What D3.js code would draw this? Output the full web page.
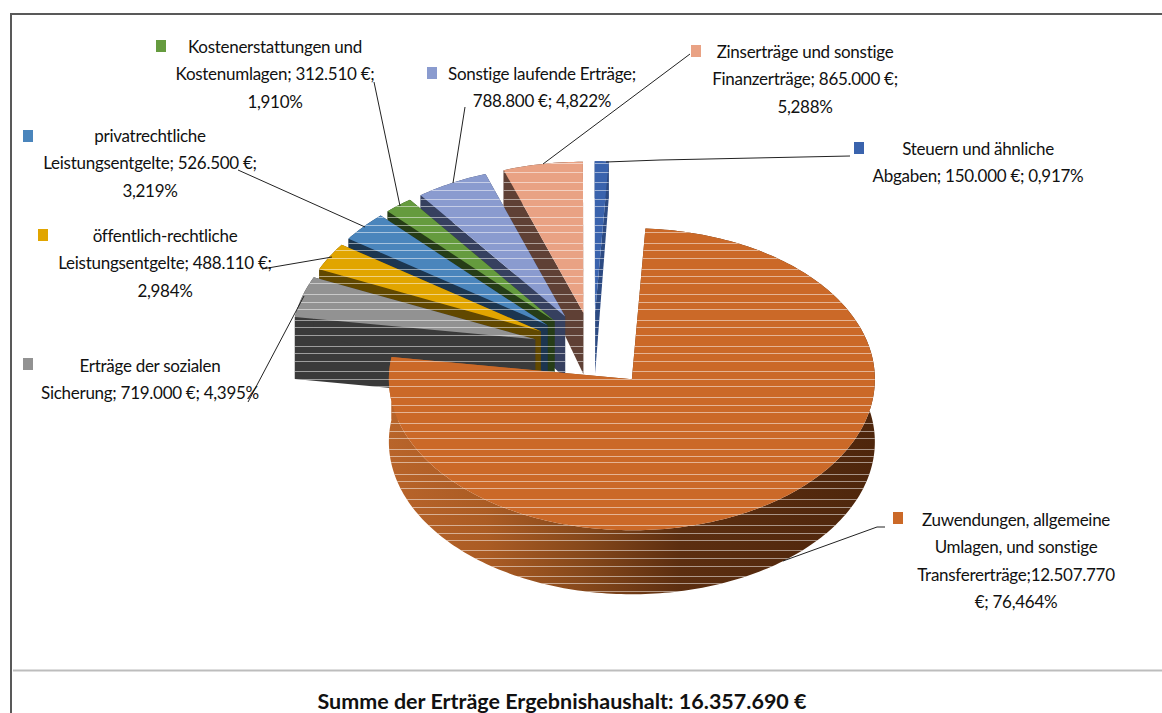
<!DOCTYPE html>
<html>
<head>
<meta charset="utf-8">
<script src="https://cdnjs.cloudflare.com/ajax/libs/d3/7.8.5/d3.min.js"></script>
<style>
    html, body { margin: 0; padding: 0; background: #fff; overflow: hidden; }
    text { font-family: Lato, sans-serif; fill: #111; }
</style>
</head>
<body>
<div id="chart"></div>
<script>
    const categories = [
        'Zuwendungen, allgemeine Umlagen, und sonstige Transfererträge',
        'Erträge der sozialen Sicherung',
        'öffentlich-rechtliche Leistungsentgelte',
        'privatrechtliche Leistungsentgelte',
        'Kostenerstattungen und Kostenumlagen',
        'Sonstige laufende Erträge',
        'Zinserträge und sonstige Finanzerträge',
        'Steuern und ähnliche Abgaben',
    ];
    const values = [12507770, 719000, 488110, 526500, 312510, 788800, 865000, 150000];
    const labelLines = [
        ['Zuwendungen, allgemeine', 'Umlagen, und sonstige', 'Transfererträge;12.507.770', '€; 76,464%'],
        ['Erträge der sozialen', 'Sicherung; 719.000 €; 4,395%'],
        ['öffentlich-rechtliche', 'Leistungsentgelte; 488.110 €;', '2,984%'],
        ['privatrechtliche', 'Leistungsentgelte; 526.500 €;', '3,219%'],
        ['Kostenerstattungen und', 'Kostenumlagen; 312.510 €;', '1,910%'],
        ['Sonstige laufende Erträge;', '788.800 €; 4,822%'],
        ['Zinserträge und sonstige', 'Finanzerträge; 865.000 €;', '5,288%'],
        ['Steuern und ähnliche', 'Abgaben; 150.000 €; 0,917%'],
    ];
    const title = 'Summe der Erträge Ergebnishaushalt: 16.357.690 €';

    const topColours = ['#CB6928', '#929292', '#E1A500', '#4A85BC', '#659B3E', '#8A9BCF', '#E9A284', '#3A63AD'];
    const sideColours = ['url(#mainSide)', '#3A3A3A', '#614800', '#1C3650', '#263D17', '#36405F', '#5F4035', '#2C4A82'];

    // label block: text centre, first line y, swatch corner, leader polyline
    const labelLayout = [
        { cx: 1016, y: 520, box: [893, 512], leader: [[783, 561], [877, 527], [885, 527]] },
        { cx: 150, y: 366, box: [23, 358], leader: [[304, 296], [248, 402]] },
        { cx: 165, y: 236, box: [38, 229], leader: [[332, 257], [262, 269]] },
        { cx: 150, y: 136, box: [23, 130], leader: [[365, 227], [238, 170]] },
        { cx: 275, y: 47, box: [156, 40], leader: [[400, 206], [374, 82]] },
        { cx: 542, y: 74, box: [427, 67], leader: [[453, 183], [465, 107]] },
        { cx: 805, y: 52, box: [691, 45], leader: [[543, 164], [690, 54]] },
        { cx: 978, y: 149, box: [854, 142], leader: [[606, 162], [660, 160], [850, 156]] },
    ];

    // the light horizontal scan streaks that run over the pie
    const scanLines = [163, 172, 182, 190, 199, 206, 217, 225, 232, 243, 250, 258, 269, 276, 283, 294, 302, 309,
        320, 327, 335, 346, 353, 361, 371, 379, 386, 397, 405, 412, 423, 431, 438, 449, 456, 462, 474, 481, 488,
        499, 507, 514, 525, 533, 540, 550, 558, 566, 576, 583, 591];

    const width = 1162, height = 713;
    const [centreX, centreY, radiusX, radiusY] = [593.5, 350, 243, 151];
    const explode = 0.25;
    const startDeg = 3.2;

    const svg = d3.select('#chart').append('svg')
        .attr('width', width)
        .attr('height', height)
        .attr('viewBox', `0 0 ${width} ${height}`)
        .style('display', 'block');

    // the big slice's wall fades from orange on the left to dark brown on the right
    svg.append('defs').append('linearGradient')
        .attr('id', 'mainSide')
        .attr('gradientUnits', 'userSpaceOnUse')
        .attr('x1', 389).attr('x2', 875).attr('y1', 0).attr('y2', 0)
        .selectAll('stop')
        .data([[0, '#B8642A'], [0.2, '#AB5C24'], [0.4, '#86481B'], [0.6, '#5C2E10'], [1, '#4E260C']])
        .enter()
        .append('stop')
        .attr('offset', d => d[0])
        .attr('stop-color', d => d[1]);

    // frame
    svg.append('path').attr('d', `M11,713V14H${width}`).attr('fill', 'none').attr('stroke', '#595959').attr('stroke-width', 2);
    svg.append('line').attr('x1', 13).attr('x2', width).attr('y1', 670.5).attr('y2', 670.5).attr('stroke', '#bdbdbd').attr('stroke-width', 2);

    // unit circle -> screen
    const x = d3.scaleLinear().domain([-1, 1]).range([centreX - radiusX, centreX + radiusX]);
    const y = d3.scaleLinear().domain([-1, 1]).range([centreY + radiusY, centreY - radiusY]);
    // extrusion shrinks towards the back of the pie
    const depth = d3.scaleLinear().domain([170, 317, 532]).range([37, 62, 64]).clamp(true);

    const arcs = d3.pie().sort(null)
        .startAngle(startDeg * Math.PI / 180)
        .endAngle(startDeg * Math.PI / 180 + 2 * Math.PI)(values);

    const line = d3.line().curve(d3.curveLinearClosed);
    const drop = (p) => [p[0], p[1] + depth(p[1])];

    const slices = arcs.map((a, i) => {
        const mid = (a.startAngle + a.endAngle) / 2;
        const project = (angle, r) => [
            x(explode * Math.sin(mid) + r * Math.sin(angle)),
            y(explode * Math.cos(mid) + r * Math.cos(angle)),
        ];
        const apex = project(0, 0);
        const steps = Math.max(4, Math.ceil((a.endAngle - a.startAngle) / 0.02));
        const rim = d3.range(steps + 1).map(s => project(a.startAngle + (a.endAngle - a.startAngle) * s / steps, 1));
        return {
            index: i,
            top: line([apex, ...rim]),
            sides: [
                line([...rim, ...rim.map(drop).reverse()]),
                line([apex, rim[0], drop(rim[0]), drop(apex)]),
                line([apex, rim[rim.length - 1], drop(rim[rim.length - 1]), drop(apex)]),
            ],
        };
    });

    // painted from the back round to the front, the big slice last
    const paintOrder = [6, 7, 5, 4, 3, 2, 1, 0];
    const pie = svg.append('g');
    const clip = svg.append('clipPath').attr('id', 'pieClip');
    for (let i of paintOrder) {
        let s = slices[i];
        for (let d of s.sides) {
            pie.append('path').attr('d', d).attr('fill', sideColours[i]);
            clip.append('path').attr('d', d);
        }
        pie.append('path').attr('d', s.top).attr('fill', topColours[i]);
        clip.append('path').attr('d', s.top);
    }

    svg.append('g')
        .attr('clip-path', 'url(#pieClip)')
        .selectAll('line')
        .data(scanLines)
        .enter()
        .append('line')
        .attr('x1', 280)
        .attr('x2', 890)
        .attr('y1', d => d + 0.5)
        .attr('y2', d => d + 0.5)
        .attr('stroke', '#fff')
        .attr('stroke-opacity', 0.5)
        .attr('stroke-width', 1);

    // leaders, swatches and labels
    const labels = svg.append('g').selectAll('g')
        .data(categories)
        .enter()
        .append('g');

    labels.append('path')
        .attr('d', (d, i) => d3.line()(labelLayout[i].leader))
        .attr('fill', 'none')
        .attr('stroke', '#222')
        .attr('stroke-width', 1);

    labels.append('rect')
        .attr('x', (d, i) => labelLayout[i].box[0])
        .attr('y', (d, i) => labelLayout[i].box[1])
        .attr('width', 10)
        .attr('height', 12)
        .attr('fill', (d, i) => topColours[i]);

    labels.each(function (d, i) {
        d3.select(this).selectAll('text')
            .data(labelLines[i])
            .enter()
            .append('text')
            .attr('x', labelLayout[i].cx)
            .attr('y', (t, n) => labelLayout[i].y + n * 27.5)
            .attr('dy', '0.35em')
            .attr('text-anchor', 'middle')
            .attr('font-size', 17)
            .attr('letter-spacing', -0.28)
            .text(t => t);
    });

    svg.append('text')
        .attr('x', 562)
        .attr('y', 708.5)
        .attr('text-anchor', 'middle')
        .attr('font-size', 21.5)
        .attr('font-weight', 'bold')
        .text(title);
</script>
</body>
</html>
